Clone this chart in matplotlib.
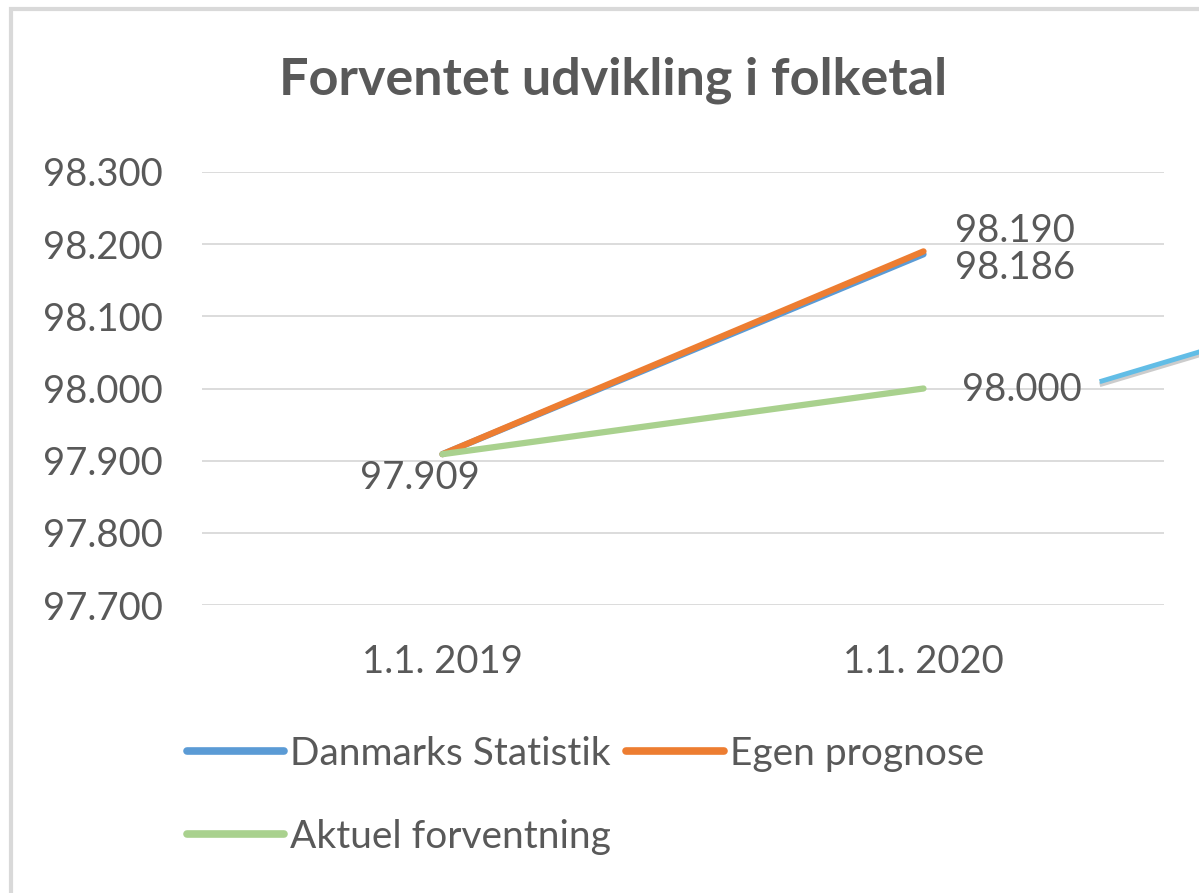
import matplotlib.pyplot as plt
from matplotlib.lines import Line2D
from matplotlib.patches import Rectangle
from matplotlib.ticker import FuncFormatter

plt.rcParams['font.family'] = ['Lato', 'DejaVu Sans']

categories = ['1.1. 2019', '1.1. 2020']
danmarks_statistik = [97909, 98186]
egen_prognose = [97909, 98190]
aktuel_forventning = [97909, 98000]
y_ticks = [97700, 97800, 97900, 98000, 98100, 98200, 98300]

TXT = '#595959'
GRID = '#d9d9d9'


def dk(v, pos=None):
    return f'{v:,.0f}'.replace(',', '.')


fig = plt.figure(figsize=(11.99, 8.93), dpi=100)
ax = fig.add_axes([202 / 1199, 1 - 605 / 893, 962 / 1199, 433 / 893])

x = list(range(len(categories)))
l1, = ax.plot(x, danmarks_statistik, color='#5b9bd5', lw=4.5,
              solid_capstyle='round', label='Danmarks Statistik', zorder=3)
l2, = ax.plot(x, egen_prognose, color='#ed7d31', lw=4.5,
              solid_capstyle='round', label='Egen prognose', zorder=4)
l3, = ax.plot(x, aktuel_forventning, color='#a9d18e', lw=4.5,
              solid_capstyle='round', label='Aktuel forventning', zorder=5)

ax.set_xlim(-0.5, 1.5)
ax.set_ylim(y_ticks[0], y_ticks[-1])
ax.set_yticks(y_ticks)
ax.yaxis.set_major_formatter(FuncFormatter(dk))
ax.set_xticks(x)
ax.set_xticklabels(categories)
ax.grid(axis='y', color=GRID, lw=1.3)
ax.set_axisbelow(True)
for s in ax.spines.values():
    s.set_visible(False)
ax.tick_params(length=0, labelsize=27.5, colors=TXT)
ax.tick_params(axis='y', pad=28)
ax.tick_params(axis='x', pad=28)

# data labels
lab = dict(fontsize=27.5, color=TXT, textcoords='offset points', va='center')
ax.annotate(dk(danmarks_statistik[0]), (x[0], danmarks_statistik[0]),
            xytext=(-16, -17), ha='center', **lab)
ax.annotate(dk(egen_prognose[1]), (x[1], egen_prognose[1]),
            xytext=(66, 15), ha='center', **lab)
ax.annotate(dk(danmarks_statistik[1]), (x[1], danmarks_statistik[1]),
            xytext=(66, -10), ha='center', **lab)
ax.annotate(dk(aktuel_forventning[1]), (x[1], aktuel_forventning[1]),
            xytext=(28, -1), ha='left', **lab)

fig.text(613 / 1199, 1 - 80 / 893, 'Forventet udvikling i folketal',
         ha='center', va='center', fontsize=37.5, fontweight='bold', color=TXT)

leg = fig.legend([l1, l3, l2],
                 ['Danmarks Statistik', 'Aktuel forventning', 'Egen prognose'],
                 loc='upper left', bbox_to_anchor=(187 / 1199, 1 - 736 / 893),
                 ncol=2, frameon=False, fontsize=28, handlelength=2.5,
                 handletextpad=0.15, columnspacing=0.4, labelspacing=1.2,
                 borderpad=0, borderaxespad=0)
for t in leg.get_texts():
    t.set_color(TXT)
for h in leg.legend_handles:
    h.set_linewidth(5.5)

# chart frame (left and top edges visible)
fig.patches.append(Rectangle((11 / 1199, -0.05), 1.2, 1 - 9 / 893 + 0.05,
                             transform=fig.transFigure, fill=False,
                             edgecolor=GRID, lw=3, zorder=0))

# callout connector leaving the chart on the right
fig.add_artist(Line2D([1102 / 1199, 1.0], [1 - 384 / 893, 1 - 355 / 893],
                      transform=fig.transFigure, color='#cccccc', lw=3.5))
fig.add_artist(Line2D([1102 / 1199, 1.0], [1 - 381 / 893, 1 - 352 / 893],
                      transform=fig.transFigure, color='#62bde6', lw=3.5))

fig.savefig('out.png', dpi=100)
